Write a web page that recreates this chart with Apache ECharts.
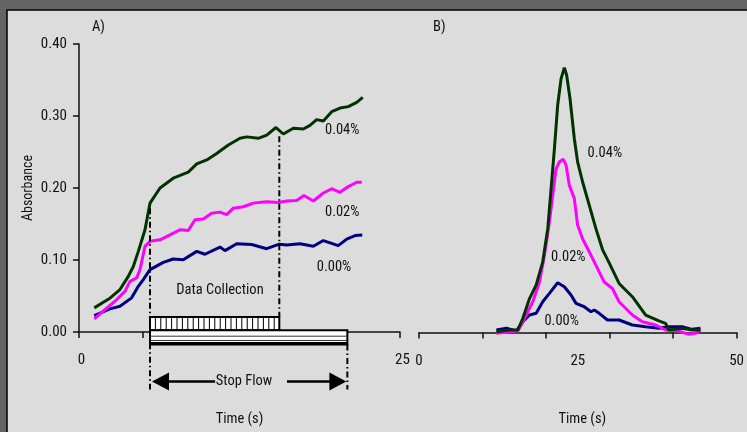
<!DOCTYPE html>
<html>
<head>
<meta charset="utf-8">
<script src="https://cdn.jsdelivr.net/npm/echarts@6/dist/echarts.min.js"></script>
<style>
html,body{margin:0;padding:0;background:#646464;}
#chart{width:747px;height:432px;}
</style>
</head>
<body>
<div id="chart"></div>
<script>
// ---------- Panel A (stop-flow) data ----------
const aGreenT = [1.19, 2.02, 2.41, 3.19, 3.84, 4.23, 4.62, 5.14, 5.53, 6.31, 7.34, 8.51, 9.17, 9.95, 10.72, 11.63, 12.54, 13.06, 13.96, 14.62, 15.34, 15.91, 16.69, 17.47, 17.99, 18.51, 19.03, 19.68, 20.33, 20.97, 21.63, 22.1];
const aGreenA = [0.0335, 0.0427, 0.047, 0.059, 0.0773, 0.091, 0.112, 0.142, 0.179, 0.200, 0.2136, 0.222, 0.2334, 0.239, 0.248, 0.2597, 0.269, 0.271, 0.269, 0.2735, 0.284, 0.275, 0.283, 0.282, 0.287, 0.295, 0.293, 0.306, 0.311, 0.313, 0.319, 0.326];

const aPinkT = [1.19, 2.02, 2.80, 3.58, 3.97, 4.49, 4.75, 5.14, 5.53, 6.31, 7.09, 7.87, 8.51, 9.03, 9.68, 10.33, 10.98, 11.50, 12.02, 12.80, 13.57, 14.62, 15.52, 16.18, 16.95, 17.52, 18.25, 19.03, 19.68, 20.33, 20.97, 21.63, 22.02];
const aPinkA = [0.0183, 0.0312, 0.0427, 0.0565, 0.0704, 0.0751, 0.0866, 0.119, 0.126, 0.128, 0.135, 0.142, 0.141, 0.156, 0.157, 0.165, 0.1665, 0.163, 0.172, 0.174, 0.179, 0.181, 0.180, 0.182, 0.1825, 0.1895, 0.182, 0.193, 0.199, 0.194, 0.202, 0.208, 0.208];

const aBlueT = [1.19, 2.41, 3.19, 4.10, 4.62, 5.01, 5.53, 6.57, 7.34, 8.12, 9.17, 9.81, 10.98, 11.37, 12.28, 13.45, 14.62, 15.60, 16.18, 17.21, 18.25, 19.03, 20.19, 20.85, 21.50, 22.06];
const aBlueA = [0.0229, 0.0321, 0.0357, 0.0474, 0.0634, 0.0727, 0.0866, 0.0967, 0.1014, 0.1004, 0.112, 0.108, 0.118, 0.113, 0.1226, 0.1216, 0.1157, 0.122, 0.1208, 0.1226, 0.119, 0.127, 0.120, 0.129, 0.134, 0.1346];

// ---------- Panel B (continuous flow) data ----------
const bGreenT = [12.18, 14.26, 15.56, 16.35, 17.40, 18.45, 19.48, 20.27, 20.80, 21.32, 21.83, 22.37, 22.88, 23.24, 23.78, 24.45, 24.97, 25.75, 26.80, 27.85, 28.89, 29.94, 31.50, 33.59, 35.69, 37.77, 38.82, 39.34, 41.43, 42.99, 44.31];
const bGreenA = [0.001, 0.0035, 0.0035, 0.0197, 0.047, 0.066, 0.098, 0.144, 0.200, 0.255, 0.315, 0.352, 0.367, 0.357, 0.324, 0.269, 0.2366, 0.209, 0.1766, 0.144, 0.115, 0.0965, 0.068, 0.0496, 0.0242, 0.016, 0.0127, 0.0035, 0.0058, 0.0035, 0.0035];

const bPinkT = [12.18, 13.75, 15.56, 16.35, 17.13, 17.92, 18.97, 19.75, 20.53, 21.05, 21.58, 22.10, 22.73, 23.15, 23.67, 24.45, 24.97, 25.75, 26.80, 27.85, 29.15, 30.45, 31.50, 33.59, 35.16, 37.26, 38.82, 40.91, 42.48, 43.52, 44.31];
const bPinkA = [-0.001, 0.0003, 0.002, 0.015, 0.0288, 0.0427, 0.070, 0.107, 0.153, 0.190, 0.227, 0.2366, 0.240, 0.232, 0.204, 0.186, 0.149, 0.130, 0.112, 0.0935, 0.070, 0.061, 0.0427, 0.0242, 0.015, 0.0104, 0.0035, 0.002, -0.0025, -0.001, 0.0035];

const bBlueT = [12.18, 13.75, 15.31, 16.35, 17.40, 18.45, 19.48, 20.53, 21.83, 22.88, 23.93, 24.72, 26.02, 27.07, 27.59, 28.37, 29.67, 31.50, 33.59, 35.69, 37.77, 39.34, 41.43, 42.99, 44.31];
const bBlueA = [0.0035, 0.0058, 0.002, 0.015, 0.0242, 0.0266, 0.0427, 0.0543, 0.069, 0.0634, 0.052, 0.0404, 0.0357, 0.0288, 0.0312, 0.0266, 0.0173, 0.0173, 0.0104, 0.008, 0.0058, 0.008, 0.008, 0.0044, 0.0058];

// ---------- axis ticks ----------
const yTicks = [0, 0.1, 0.2, 0.3, 0.4];
const aXLabels = [0, 25];
const bXLabels = [0, 25, 50];

// ---------- annotations (data units) ----------
const stopFlowStart = 5.53;
const dataCollectionEnd = 15.6;
const stopFlowEnd = 20.9;
const dcBarTop = 0.021, dcBarBottom = 0.0025, sfBarBottom = -0.0173;
const startLineTop = 0.172, dcLineTop = 0.272, guideBottom = -0.08;
const arrowLevel = -0.0686, arrowLeftEnd = 10.6, arrowRightStart = 16.2;

const aNoteText = ['0.04%', '0.02%', '0.00%', 'Data Collection', 'Stop Flow'];
const aNoteT = [20.5, 20.5, 19.86, 10.98, 12.85];
const aNoteA = [0.28, 0.1667, 0.0893, 0.0575, -0.0686];
const bNoteText = ['0.04%', '0.02%', '0.00%'];
const bNoteT = [29.26, 23.5, 22.46];
const bNoteA = [0.248, 0.1036, 0.016];

const FONT = "'Roboto Condensed','Liberation Sans',sans-serif";
const FS = 14.5;
const TXT = '#111';
const C_GREEN = '#003300', C_PINK = '#ff00ff', C_BLUE = '#000080';

const zip = (t, a) => t.map((v, i) => [v, a[i]]);

function lineSeries(name, t, a, color, idx) {
  return {
    name, type: 'line', xAxisIndex: idx === 0 ? 0 : 1, yAxisIndex: idx,
    data: zip(t, a), showSymbol: false, symbol: 'none', smooth: false,
    lineStyle: { color, width: 3 }, itemStyle: { color }, z: 3, clip: false, animation: false
  };
}

function noteSeries(texts, ts, as, idx) {
  return {
    type: 'custom', xAxisIndex: idx === 0 ? 0 : 1, yAxisIndex: idx, clip: false, z: 6,
    data: ts.map((t, i) => [t, as[i], i]),
    renderItem: (params, api) => {
      const p = api.coord([api.value(0), api.value(1)]);
      return { type: 'text', x: p[0], y: p[1],
        style: { text: texts[api.value(2)], fill: TXT, font: FS + 'px ' + FONT, align: 'center', verticalAlign: 'middle' } };
    }
  };
}

function renderStopFlow(params, api) {
  const c = (x, y) => api.coord([x, y]);
  const [x0, yDcTop] = c(stopFlowStart, dcBarTop);
  const [x1, yDcBot] = c(dataCollectionEnd, dcBarBottom);
  const [x2, ySfBot] = c(stopFlowEnd, sfBarBottom);
  const k = [];
  const black = '#000';
  // data collection bar (vertical stripes)
  k.push({ type: 'rect', shape: { x: x0, y: yDcTop, width: x1 - x0, height: yDcBot - yDcTop }, style: { fill: '#fff', stroke: black, lineWidth: 2 }, z2: 1 });
  for (let x = x0 + 5.4; x < x1 - 2; x += 5.4) {
    k.push({ type: 'line', shape: { x1: x, y1: yDcTop, x2: x, y2: yDcBot }, style: { stroke: black, lineWidth: 1 }, z2: 2 });
  }
  // stop flow bar (horizontal stripes)
  const h = ySfBot - yDcBot;
  k.push({ type: 'rect', shape: { x: x0, y: yDcBot, width: x2 - x0, height: h }, style: { fill: '#fff', stroke: black, lineWidth: 2 }, z2: 1 });
  k.push({ type: 'line', shape: { x1: x0, y1: yDcBot + h * 0.42, x2: x2, y2: yDcBot + h * 0.42 }, style: { stroke: '#333', lineWidth: 1 }, z2: 2 });
  k.push({ type: 'line', shape: { x1: x0, y1: yDcBot + h * 0.72, x2: x2, y2: yDcBot + h * 0.72 }, style: { stroke: '#333', lineWidth: 1 }, z2: 2 });
  k.push({ type: 'line', shape: { x1: x0, y1: ySfBot - 1, x2: x2, y2: ySfBot - 1 }, style: { stroke: black, lineWidth: 3 }, z2: 2 });
  // dash-dot guides
  const dash = { stroke: black, lineWidth: 2, lineDash: [6, 3, 1.5, 3] };
  const g = (t, aTop, aBot) => {
    const p1 = c(t, aTop), p2 = c(t, aBot);
    k.push({ type: 'line', shape: { x1: p1[0], y1: p1[1], x2: p2[0], y2: p2[1] }, style: dash, z2: 3 });
  };
  g(stopFlowStart, startLineTop, guideBottom);
  g(dataCollectionEnd, dcLineTop, dcBarTop);
  g(stopFlowEnd, sfBarBottom, guideBottom);
  // arrows
  const ya = c(0, arrowLevel)[1];
  const xl = c(arrowLeftEnd, 0)[0], xr = c(arrowRightStart, 0)[0];
  k.push({ type: 'polygon', shape: { points: [[x0 + 2, ya], [x0 + 19, ya - 9], [x0 + 19, ya + 9]] }, style: { fill: black } });
  k.push({ type: 'line', shape: { x1: x0 + 18, y1: ya, x2: xl, y2: ya }, style: { stroke: black, lineWidth: 2.5 } });
  k.push({ type: 'polygon', shape: { points: [[x2 - 1, ya], [x2 - 18, ya - 9], [x2 - 18, ya + 9]] }, style: { fill: black } });
  k.push({ type: 'line', shape: { x1: xr, y1: ya, x2: x2 - 17, y2: ya }, style: { stroke: black, lineWidth: 2.5 } });
  return { type: 'group', children: k };
}

const axisCommon = {
  axisLine: { show: true, lineStyle: { color: '#111', width: 1.5 } },
  axisTick: { show: true, inside: false, length: 6, lineStyle: { color: '#111', width: 1.5 } },
  splitLine: { show: false },
};

const option = {
  backgroundColor: '#646464',
  animation: false,
  graphic: [
    { type: 'rect', z: -100, silent: true, shape: { x: 7, y: 10, width: 800, height: 500 }, style: { fill: '#dcdcdc', stroke: '#000', lineWidth: 1.5 } }
  ],
  title: [
    { text: 'A)', left: 92, top: 20, padding: 0, textStyle: { fontFamily: FONT, fontSize: FS, fontWeight: 'normal', color: TXT } },
    { text: 'B)', left: 433, top: 20, padding: 0, textStyle: { fontFamily: FONT, fontSize: FS, fontWeight: 'normal', color: TXT } }
  ],
  grid: [
    { left: 79, right: 347, top: 44, bottom: 99.5 },
    { left: 419, right: 9, top: 44, bottom: 99.5 }
  ],
  xAxis: [
    Object.assign({}, axisCommon, {
      gridIndex: 0, type: 'value', position: 'bottom', min: 0, max: 25, interval: 5,
      axisLabel: { margin: 21, color: TXT, fontFamily: FONT, fontSize: 15, padding: [0, 0, 0, 5],
        formatter: v => aXLabels.includes(v) ? String(v) : '' },
      name: 'Time (s)', nameLocation: 'middle', nameGap: 80,
      nameTextStyle: { color: TXT, fontFamily: FONT, fontSize: FS }
    }),
    Object.assign({}, axisCommon, {
      gridIndex: 1, type: 'value', position: 'bottom', min: 0, max: 50, interval: 10,
      axisLabel: { show: false },
      name: 'Time (s)', nameLocation: 'middle', nameGap: 79,
      nameTextStyle: { color: TXT, fontFamily: FONT, fontSize: FS, padding: [0, 0, 0, 9] }
    }),
    {
      gridIndex: 1, type: 'value', position: 'bottom', min: 0, max: 50, interval: 25,
      axisLine: { show: false }, axisTick: { show: false }, splitLine: { show: false },
      axisLabel: { margin: 21, color: TXT, fontFamily: FONT, fontSize: 15,
        formatter: v => bXLabels.includes(v) ? String(v) : '' }
    }
  ],
  yAxis: [
    Object.assign({}, axisCommon, {
      gridIndex: 0, type: 'value', min: yTicks[0], max: yTicks[yTicks.length - 1], interval: 0.1,
      axisLabel: { margin: 12, color: TXT, fontFamily: FONT, fontSize: 15, formatter: v => v.toFixed(2) },
      name: 'Absorbance', nameLocation: 'middle', nameGap: 44, nameRotate: 90,
      nameTextStyle: { color: TXT, fontFamily: FONT, fontSize: 14 }
    }),
    { gridIndex: 1, type: 'value', min: 0, max: 0.4, interval: 0.1, show: false }
  ],
  series: [
    { type: 'custom', xAxisIndex: 0, yAxisIndex: 0, clip: false, z: 4, data: [[stopFlowStart, 0]], renderItem: renderStopFlow },
    lineSeries('A 0.00%', aBlueT, aBlueA, C_BLUE, 0),
    lineSeries('A 0.02%', aPinkT, aPinkA, C_PINK, 0),
    lineSeries('A 0.04%', aGreenT, aGreenA, C_GREEN, 0),
    noteSeries(aNoteText, aNoteT, aNoteA, 0),
    lineSeries('B 0.00%', bBlueT, bBlueA, C_BLUE, 1),
    lineSeries('B 0.02%', bPinkT, bPinkA, C_PINK, 1),
    lineSeries('B 0.04%', bGreenT, bGreenA, C_GREEN, 1),
    noteSeries(bNoteText, bNoteT, bNoteA, 1)
  ]
};

const chart = echarts.init(document.getElementById('chart'), null, { renderer: 'canvas' });
chart.setOption(option);
</script>
</body>
</html>
